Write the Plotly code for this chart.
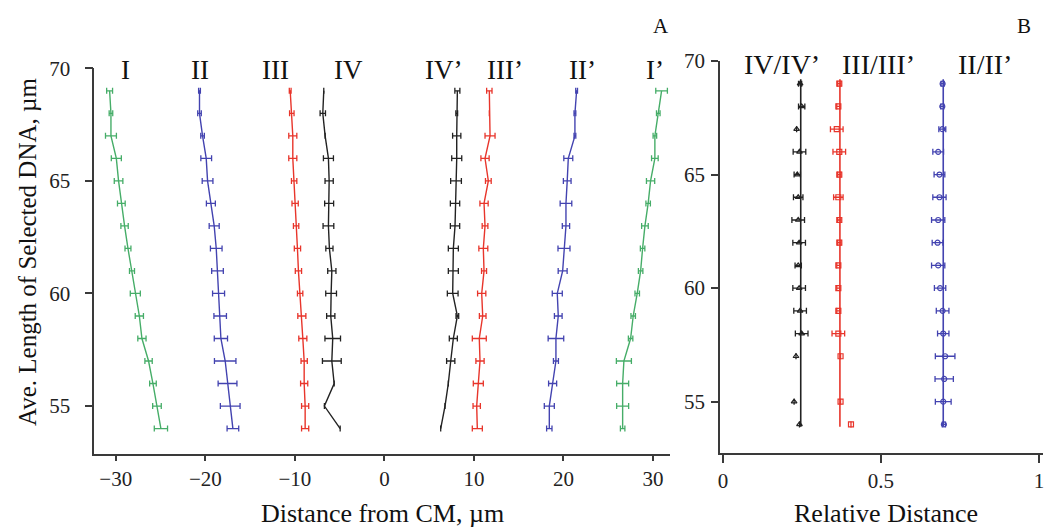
import plotly.graph_objects as go

# ---------------- data ----------------
LENGTH = [69, 68, 67, 66, 65, 64, 63, 62, 61, 60, 59, 58, 57, 56, 55, 54]

I_x = [-30.69, -30.54, -30.54, -29.94, -29.69, -29.38, -29.02, -28.64, -28.19, -27.82, -27.37, -27.08, -26.34, -25.85, -25.40, -24.96]
I_err = [0.33, 0.2, 0.61, 0.56, 0.48, 0.43, 0.41, 0.33, 0.28, 0.56, 0.46, 0.46, 0.41, 0.37, 0.48, 0.74]

II_x = [-20.65, -20.65, -20.31, -19.90, -19.75, -19.38, -19.01, -18.78, -18.64, -18.52, -18.34, -18.26, -17.78, -17.52, -17.22, -16.92]
II_err = [0.1, 0.2, 0.2, 0.6, 0.6, 0.5, 0.56, 0.65, 0.65, 0.67, 0.7, 0.74, 1.2, 1.05, 1.1, 0.65]

III_x = [-10.52, -10.34, -10.23, -10.23, -10.08, -9.97, -9.86, -9.71, -9.60, -9.41, -9.22, -9.11, -8.96, -8.96, -8.85, -8.85]
III_err = [0.1, 0.25, 0.45, 0.45, 0.3, 0.35, 0.3, 0.35, 0.35, 0.3, 0.45, 0.45, 0.35, 0.4, 0.4, 0.4]

IV_x = [-6.77, -6.88, -6.62, -6.25, -6.17, -6.17, -6.25, -6.14, -5.87, -5.95, -5.99, -5.77, -5.87, -5.61, -6.70, -4.94]
IV_err = [0, 0.3, 0, 0.56, 0.46, 0.5, 0.6, 0.4, 0.46, 0.6, 0.46, 0.87, 1.05, 0, 0, 0]

IVp_x = [8.15, 8.08, 8.08, 8.08, 8.00, 7.89, 7.89, 7.70, 7.70, 7.63, 8.15, 7.70, 7.41, 7.14, 6.77, 6.29]
IVp_err = [0.28, 0.1, 0.46, 0.56, 0.6, 0.52, 0.52, 0.56, 0.56, 0.6, 0.15, 0.45, 0.46, 0, 0, 0]

IIIp_x = [11.72, 11.72, 11.80, 11.24, 11.61, 11.13, 11.24, 11.05, 11.13, 10.87, 10.98, 10.60, 10.68, 10.49, 10.31, 10.38]
IIIp_err = [0.3, 0, 0.56, 0.46, 0.32, 0.46, 0.32, 0.5, 0.28, 0.46, 0.37, 0.78, 0.46, 0.56, 0.41, 0.56]

IIp_x = [21.47, 21.28, 21.28, 20.54, 20.42, 20.28, 20.28, 20.06, 19.91, 19.31, 19.42, 19.16, 19.16, 18.79, 18.42, 18.42]
IIp_err = [0.1, 0.1, 0.1, 0.5, 0.43, 0.65, 0.41, 0.67, 0.5, 0.56, 0.43, 0.87, 0.28, 0.45, 0.56, 0.3]

Ip_x = [30.96, 30.59, 30.21, 30.21, 29.73, 29.46, 29.10, 28.84, 28.62, 28.24, 27.79, 27.50, 26.75, 26.61, 26.61, 26.61]
Ip_err = [0.65, 0.2, 0.2, 0.37, 0.46, 0.25, 0.37, 0.25, 0.25, 0.25, 0.25, 0.25, 0.84, 0.67, 0.67, 0.25]

SERIES_A_NAMES = ["I", "II", "III", "IV", "IV’", "III’", "II’", "I’"]

# Panel B (relative distance)
B_LEN_34 = [69, 68, 67, 66, 65, 64, 63, 62, 61, 60, 59, 58, 57, 55, 54]
B_IV_x = [0.244, 0.249, 0.233, 0.242, 0.235, 0.238, 0.238, 0.241, 0.238, 0.241, 0.244, 0.249, 0.231, 0.225, 0.242]
B_IV_err = [0.005, 0.01, 0, 0.02, 0.01, 0.015, 0.02, 0.02, 0.01, 0.02, 0.02, 0.02, 0, 0, 0]
B_III_x = [0.368, 0.365, 0.360, 0.368, 0.368, 0.365, 0.368, 0.368, 0.365, 0.365, 0.365, 0.365, 0.372, 0.372, 0.405]
B_III_err = [0.005, 0.005, 0.02, 0.02, 0.005, 0.015, 0.005, 0.005, 0.005, 0.005, 0.005, 0.02, 0, 0, 0]
B_II_x = [0.695, 0.694, 0.694, 0.681, 0.685, 0.685, 0.681, 0.679, 0.681, 0.687, 0.695, 0.697, 0.703, 0.700, 0.697, 0.699]
B_II_err = [0.005, 0.005, 0.011, 0.017, 0.017, 0.021, 0.021, 0.017, 0.021, 0.018, 0.02, 0.018, 0.031, 0.029, 0.025, 0.005]
B_MEAN = [0.246, 0.370, 0.697]
B_LINE_Y = [53.9, 69.2]
SERIES_B_NAMES = ["IV/IV’", "III/III’", "II/II’"]

# ---------------- style ----------------
GREEN = "#46ad68"
BLUE = "#4343b0"
RED = "#e8352b"
BLACK = "#222222"
AXIS = "#3a3a3a"
FONT = "Liberation Serif, Times New Roman, serif"

fig = go.Figure()

series_a = [
    (I_x, I_err, GREEN), (II_x, II_err, BLUE), (III_x, III_err, RED), (IV_x, IV_err, BLACK),
    (IVp_x, IVp_err, BLACK), (IIIp_x, IIIp_err, RED), (IIp_x, IIp_err, BLUE), (Ip_x, Ip_err, GREEN),
]
for xs, errs, col in series_a:
    fig.add_trace(go.Scatter(
        x=xs, y=LENGTH, mode="lines",
        line=dict(color=col, width=1.4),
        error_x=dict(type="data", array=errs, visible=True, color=col, thickness=1.3, width=3),
        xaxis="x", yaxis="y", showlegend=False, hoverinfo="skip",
    ))

# Panel B
series_b = [
    (B_IV_x, B_LEN_34, B_IV_err, BLACK, "triangle-up-open", B_MEAN[0]),
    (B_III_x, B_LEN_34, B_III_err, RED, "square-open", B_MEAN[1]),
    (B_II_x, LENGTH, B_II_err, BLUE, "circle-open", B_MEAN[2]),
]
for xs, ys, errs, col, sym, mean in series_b:
    fig.add_trace(go.Scatter(
        x=[mean, mean], y=B_LINE_Y, mode="lines",
        line=dict(color=col, width=1.6),
        xaxis="x2", yaxis="y2", showlegend=False, hoverinfo="skip",
    ))
    fig.add_trace(go.Scatter(
        x=xs, y=ys, mode="markers",
        marker=dict(symbol=sym, size=5, color=col, line=dict(width=1.2, color=col)),
        error_x=dict(type="data", array=errs, visible=True, color=col, thickness=1.3, width=3),
        xaxis="x2", yaxis="y2", showlegend=False, hoverinfo="skip",
    ))

W, H = 1045, 527
axis_common = dict(
    showline=True, linecolor=AXIS, linewidth=1.5, ticks="outside", tickcolor=AXIS, tickwidth=1.5,
    showgrid=False, zeroline=False, tickfont=dict(family=FONT, size=21, color="#222"),
    fixedrange=True, automargin=False,
)
fig.update_layout(
    template="none",
    width=W, height=H,
    margin=dict(l=0, r=0, t=0, b=0, pad=0, autoexpand=False),
    paper_bgcolor="white", plot_bgcolor="white",
    xaxis=dict(domain=[94.3 / W, 670 / W], range=[-32.4, 31.9],
               tickvals=[-30, -20, -10, 0, 10, 20, 30], ticklen=5, anchor="y",
               ticklabelstandoff=0, **axis_common),
    yaxis=dict(domain=[1 - 454 / H, 1 - 68.3 / H], range=[52.87, 70],
               tickvals=[55, 60, 65, 70], ticklen=8, anchor="x",
               ticklabelstandoff=10, **axis_common),
    xaxis2=dict(domain=[720 / W, 1043 / W], range=[-0.0095, 1.0127],
                tickvals=[0, 0.5, 1], ticktext=["0", "0.5", "1"], ticklen=8, anchor="y2",
                ticklabelstandoff=0, **axis_common),
    yaxis2=dict(domain=[1 - 453 / H, 1 - 61 / H], range=[52.74, 70],
                tickvals=[55, 60, 65, 70], ticklen=7, anchor="x2",
                ticklabelstandoff=2, **axis_common),
)

ann = []
label_font_a = dict(family=FONT, size=27, color="#111")
label_x_px_a = [125, 200, 275, 348, 443, 505, 582, 655]
for name, px in zip(SERIES_A_NAMES, label_x_px_a):
    ann.append(dict(text=name, x=px / W, y=1 - 70 / H, xref="paper", yref="paper",
                    xanchor="center", yanchor="middle", showarrow=False, font=label_font_a))
label_x_px_b = [782, 878, 985]
for name, px in zip(SERIES_B_NAMES, label_x_px_b):
    ann.append(dict(text=name, x=px / W, y=1 - 64 / H, xref="paper", yref="paper",
                    xanchor="center", yanchor="middle", showarrow=False,
                    font=dict(family=FONT, size=28, color="#111")))
# panel letters
ann.append(dict(text="A", x=661 / W, y=1 - 26 / H, xref="paper", yref="paper", xanchor="center",
                yanchor="middle", showarrow=False, font=dict(family=FONT, size=21, color="#111")))
ann.append(dict(text="B", x=1024 / W, y=1 - 26 / H, xref="paper", yref="paper", xanchor="center",
                yanchor="middle", showarrow=False, font=dict(family=FONT, size=21, color="#111")))
# axis titles
ann.append(dict(text="Distance from CM, µm", x=382 / W, y=1 - 513 / H, xref="paper", yref="paper",
                xanchor="center", yanchor="middle", showarrow=False,
                font=dict(family=FONT, size=26, color="#111")))
ann.append(dict(text="Relative Distance", x=886 / W, y=1 - 513 / H, xref="paper", yref="paper",
                xanchor="center", yanchor="middle", showarrow=False,
                font=dict(family=FONT, size=26, color="#111")))
ann.append(dict(text="Ave. Length of Selected DNA, µm", x=27 / W, y=1 - 252 / H, xref="paper",
                yref="paper", xanchor="center", yanchor="middle", textangle=-90, showarrow=False,
                font=dict(family=FONT, size=25, color="#111")))
fig.update_layout(annotations=ann)

POST = (
    "var s=document.createElement('style');"
    "s.innerHTML='html,body{margin:0!important;padding:0!important;overflow:hidden!important;"
    "width:1045px;height:527px;}"
    " .plotly-graph-div{position:fixed!important;top:0!important;left:0!important;margin:0!important;}';"
    "document.head.appendChild(s);"
    "Plotly.Plots.resize(document.getElementById('{plot_id}'));"
)
fig.write_html("out.html", config={"responsive": False, "displayModeBar": False}, post_script=POST)
